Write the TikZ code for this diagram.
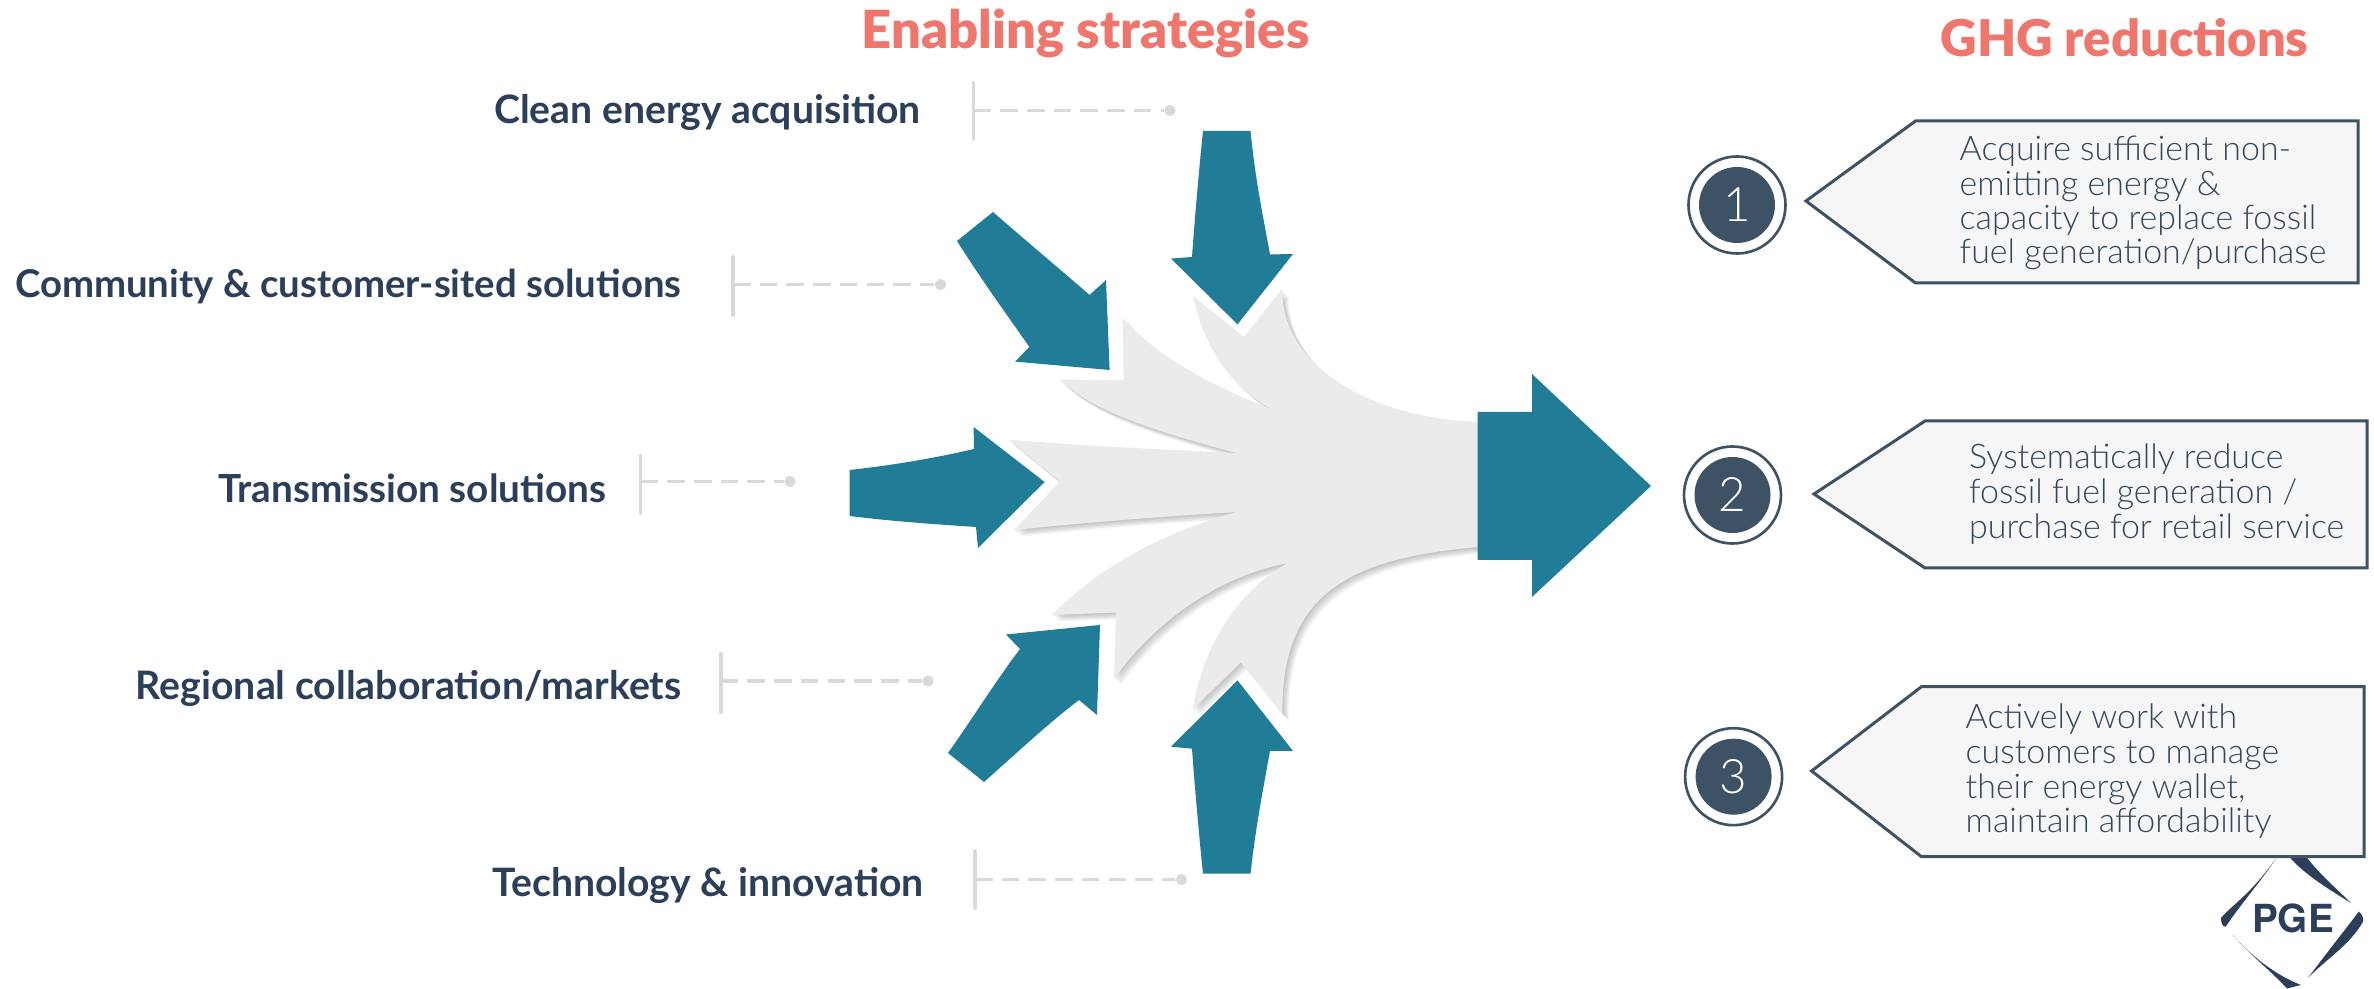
\documentclass[tikz,border=0pt]{standalone}
\usepackage{fontspec}
\setmainfont{Lato}
\newfontfamily\headfont{Lato Black}
\newfontfamily\lightfont{Lato Light}
\definecolor{teal}{HTML}{217C98}
\definecolor{greyshape}{HTML}{EBEBEB}
\definecolor{navy}{HTML}{2B3F5A}
\definecolor{salmon}{HTML}{EE766D}
\definecolor{slate}{HTML}{3E5266}
\definecolor{goalink}{HTML}{33475C}
\definecolor{boxfill}{HTML}{F6F6F6}
\definecolor{rulegrey}{HTML}{D9D9D9}
\newcommand{\pxu}{*0.01cm}
\newcommand{\stratsize}[1]{\fontsize{#1}{13pt}\selectfont\bfseries}
\tikzset{
 bigarrow/.style={fill=teal,draw=none},
 heading/.style={inner sep=0pt,anchor=base,text=salmon,font=\headfont\fontsize{14.95pt}{18pt}\selectfont},
 strategy/.style={inner sep=0pt,anchor=base east,text=navy},
 bar/.style={draw=rulegrey,line width=1.1pt,line cap=round},
 dashlink/.style={draw=rulegrey,line width=.9pt,dash pattern=on 5pt off 2.6pt},
 enddot/.style={circle,fill=rulegrey,inner sep=0pt,minimum size=3.2pt},
 callout/.style={fill=boxfill,draw=slate,line width=.85pt,line join=miter},
 ringnode/.style={circle,draw=slate,line width=.75pt,fill=white,inner sep=0pt,minimum size=97\pxu},
 numnode/.style={circle,fill=slate,text=white,inner sep=0pt,minimum size=76\pxu,font=\lightfont\fontsize{13.5pt}{15pt}\selectfont},
 goal/.style={inner sep=0pt,anchor=base west,text=goalink,font=\lightfont\fontsize{9.65pt}{11pt}\selectfont},
 logostroke/.style={fill=navy,draw=none},
}
\newcommand{\greyoutline}{
 (1477.6,422) .. controls (1375,418) and (1282,370) .. (1282,288.7)
 -- (1244,337) -- (1193,296)
 .. controls (1205,350) and (1230,385) .. (1271.7,409.6)
 .. controls (1225,390) and (1165,365) .. (1122.6,318)
 -- (1123.7,380.5) -- (1060,379.5)
 .. controls (1090,410) and (1150,430) .. (1237.5,453.4)
 .. controls (1160,449) and (1080,446) .. (1008.8,439.7)
 -- (1059.8,481.5) -- (1014,530)
 .. controls (1090,522) and (1170,516) .. (1237.5,512)
 .. controls (1170,530) and (1100,565) .. (1052,615)
 -- (1116,612.5) -- (1114,679)
 .. controls (1160,615) and (1225,575) .. (1288,563)
 .. controls (1240,590) and (1205,640) .. (1192.5,709.5)
 -- (1241,662.5) -- (1282.5,714.6)
 .. controls (1280,590) and (1355,558) .. (1477.6,547) -- cycle}
\begin{document}
\begin{tikzpicture}[x=0.01cm,y=-0.01cm]
\useasboundingbox (0,0) rectangle (2374,989);
\fill[white] (0,0) rectangle (2374,989);

% headings
\node[heading] (h1) at (1085.5,49) {Enabling strategies};
\node[heading,font=\headfont\fontsize{14.4pt}{18pt}\selectfont] (h2) at (2124.5,57) {GHG reductions};

% strategies
\node[strategy,font=\stratsize{11.13pt}] (s1) at (921.5,124) {Clean energy acquisition};
\node[strategy,font=\stratsize{10.9pt}] (s2) at (682,297.5) {Community \& customer-sited solutions};
\node[strategy,font=\stratsize{11pt}] (s3) at (607,502.5) {Transmission solutions};
\node[strategy,font=\stratsize{11.15pt}] (s4) at (682,699.5) {Regional collaboration/markets};
\node[strategy,font=\stratsize{11.13pt}] (s5) at (924.5,896.5) {Technology \& innovation};

% leader bars, dashes, dots
\coordinate (b1t) at (973.5,83);  \coordinate (b1b) at (973.5,139); \coordinate (b1m) at (973.5,110.5);
\coordinate (b2t) at (733,257);   \coordinate (b2b) at (733,315);   \coordinate (b2m) at (733,284.6);
\coordinate (b3t) at (640.5,456); \coordinate (b3b) at (640.5,513); \coordinate (b3m) at (640.5,481.5);
\coordinate (b4t) at (720.7,654); \coordinate (b4b) at (720.7,712); \coordinate (b4m) at (720.7,681);
\coordinate (b5t) at (975,851);   \coordinate (b5b) at (975,908);   \coordinate (b5m) at (975,879.6);
\node[enddot] (d1) at (1170,110.5) {};
\node[enddot] (d2) at (940.5,284.6) {};
\node[enddot] (d3) at (790,481.5) {};
\node[enddot] (d4) at (928,681) {};
\node[enddot] (d5) at (1181.5,879.6) {};
\foreach \i in {1,...,5}{
 \draw[bar] (b\i t) -- (b\i b);
 \draw[dashlink] (b\i m) -- (d\i);
}

% grey funnel with soft shadow
\foreach \o in {6,5,4,3,2,1}{
 \fill[black,opacity=.04,shift={(\o*1.1,\o*1.1)}] \greyoutline;
}
\fill[greyshape] \greyoutline;

% teal arrows
\fill[bigarrow] (1203,131) -- (1250.5,131) .. controls (1256,185) and (1263,215) .. (1270,254.5)
 -- (1293,254) -- (1237.5,324.4) -- (1171,258.6) -- (1192,257) .. controls (1195,215) and (1199,170) .. (1203,131) -- cycle;
\fill[bigarrow] (993,212) -- (957,241) .. controls (985,285) and (1005,312) .. (1029.4,347)
 -- (1015,361.6) -- (1109.6,370) -- (1106,280) -- (1089.6,295) .. controls (1055,265) and (1025,240) .. (993,212) -- cycle;
\fill[bigarrow] (849.5,470) .. controls (895,465) and (935,458) .. (974,449) -- (973.6,427) -- (1044.6,482) -- (978,548) -- (976,527)
 .. controls (930,524) and (890,521) .. (849.5,516) -- cycle;
\fill[bigarrow] (948,753) -- (984,782) .. controls (1020,750) and (1050,722) .. (1079,700)
 -- (1097,715) -- (1100,625) -- (1006,634.5) -- (1020,649) .. controls (995,682) and (975,715) .. (948,753) -- cycle;
\fill[bigarrow] (1203,873.7) -- (1250.5,873.7) .. controls (1256,825) and (1263,790) .. (1270,750.8)
 -- (1293,751) -- (1237.5,680.4) -- (1171,746.7) -- (1192,748.7) .. controls (1195,790) and (1199,835) .. (1203,873.7) -- cycle;
\fill[bigarrow] (1477.6,412) -- (1532,412) -- (1532,374) -- (1651,486) -- (1532,597) -- (1532,560) -- (1477.6,560) -- cycle;

% logo
\fill[logostroke] (2275.6,859) .. controls (2250,895) and (2232,905) .. (2221,918) .. controls (2221,924) and (2223,927) .. (2225.7,926.7) .. controls (2240,905) and (2262,880) .. (2275.6,859) -- cycle;
\fill[logostroke] (2289.4,857) -- (2305.6,856) .. controls (2320,875) and (2338,890) .. (2351,903) .. controls (2330,890) and (2305,875) .. (2289.4,857) -- cycle;
\fill[logostroke] (2358.7,911.7) .. controls (2362,914) and (2364,918) .. (2363,921.7) .. controls (2350,945) and (2325,960) .. (2308,978) .. controls (2325,955) and (2345,930) .. (2358.7,911.7) -- cycle;
\fill[logostroke] (2233,935) .. controls (2250,955) and (2275,975) .. (2301,985) -- (2287,988.5) .. controls (2270,970) and (2250,955) .. (2233,935) -- cycle;
\node[inner sep=0pt,anchor=base,text=navy] (logo) at (2293,933) {\fontspec{TeX Gyre Heros}\fontsize{11pt}{14pt}\selectfont\bfseries PGE};

% callouts
\draw[callout] (1806,201) -- (1915.5,121) -- (2358,121) -- (2358,283) -- (1915.5,283) -- cycle;
\draw[callout] (1814,494) -- (1925,421) -- (2367,421) -- (2367,568) -- (1925,568) -- cycle;
\draw[callout] (1811.6,771) -- (1921.5,686.7) -- (2364,686.7) -- (2364,856.7) -- (1921.5,856.7) -- cycle;

% number circles
\node[ringnode] (r1) at (1737,205) {};
\node[numnode] (n1) at (r1) {1};
\node[ringnode] (r2) at (1732.5,495) {};
\node[numnode] (n2) at (r2) {2};
\node[ringnode] (r3) at (1733.6,776.7) {};
\node[numnode] (n3) at (r3) {3};

% callout text
\node[goal] (t11) at (1959,161) {Acquire sufficient non-};
\node[goal] (t12) at (1959,196) {emitting energy \&};
\node[goal] (t13) at (1959,230) {capacity to replace fossil};
\node[goal] (t14) at (1959,264) {fuel generation/purchase};
\node[goal] (t21) at (1968.5,469) {Systematically reduce};
\node[goal] (t22) at (1968.5,504) {fossil fuel generation /};
\node[goal] (t23) at (1968.5,539) {purchase for retail service};
\node[goal] (t31) at (1965,729) {Actively work with};
\node[goal] (t32) at (1965,764) {customers to manage};
\node[goal] (t33) at (1965,799) {their energy wallet,};
\node[goal] (t34) at (1965,833) {maintain affordability};
\end{tikzpicture}
\end{document}
